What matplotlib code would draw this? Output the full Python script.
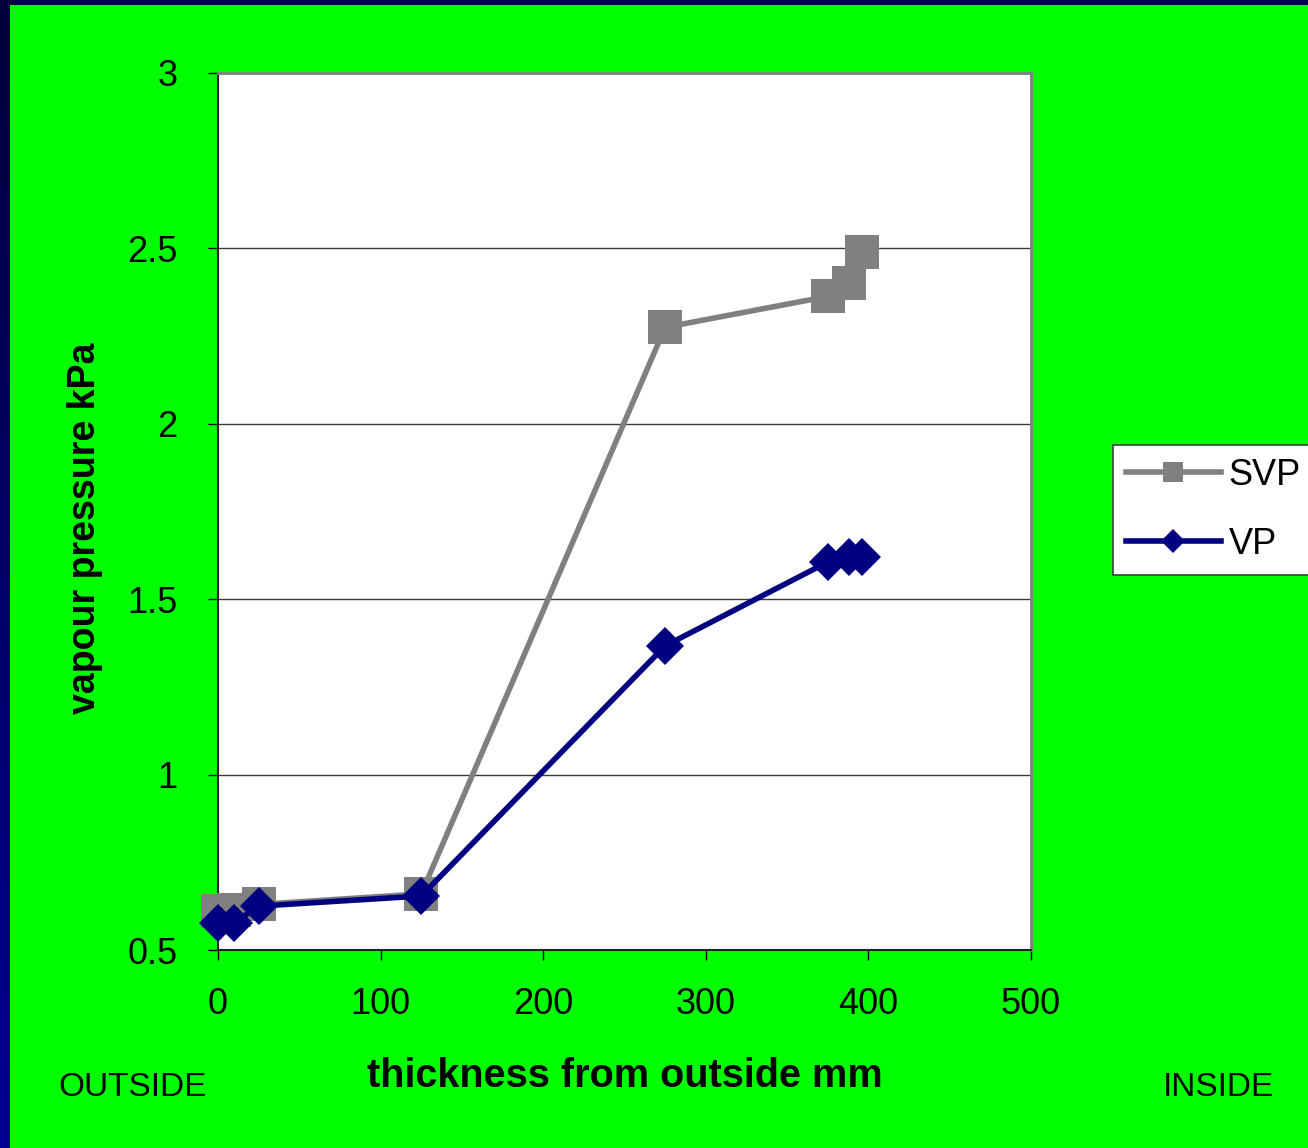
import numpy as np
import matplotlib
matplotlib.use("Agg")
import matplotlib.pyplot as plt
from matplotlib.patches import Rectangle
from matplotlib.lines import Line2D
from matplotlib.colors import LinearSegmentedColormap

plt.rcParams['font.family'] = ['Liberation Sans', 'DejaVu Sans']

# Data
thickness = [0, 10, 25, 125, 275, 375, 388, 396]
svp = [0.61, 0.615, 0.63, 0.66, 2.275, 2.363, 2.40, 2.49]
vp = [0.578, 0.578, 0.625, 0.654, 1.367, 1.606, 1.62, 1.62]
series_names = ["SVP", "VP"]
x_ticks = [0, 100, 200, 300, 400, 500]
y_ticks = [0.5, 1, 1.5, 2, 2.5, 3]
y_tick_labels = ["0.5", "1", "1.5", "2", "2.5", "3"]

W, H = 1308, 1148
fig = plt.figure(figsize=(W / 100, H / 100), dpi=100)

# background: navy gradient border + green slide
bg = fig.add_axes([0, 0, 1, 1], zorder=-10)
grad = np.linspace(0, 1, 256).reshape(-1, 1)
cmap = LinearSegmentedColormap.from_list("nv", ["#000094", "#00003c"])
bg.imshow(grad, aspect='auto', cmap=cmap, extent=[0, 1, 0, 1], origin='lower')
bg.add_patch(Rectangle((10 / W, 0), 1, 1 - 5 / H, facecolor="#00FF00", edgecolor='none'))
bg.set_xlim(0, 1)
bg.set_ylim(0, 1)
bg.axis('off')

ax = fig.add_axes([218 / W, 1 - 950 / H, (1031 - 218) / W, (950 - 73) / H])
ax.set_facecolor("white")

ax.plot(thickness, svp, color="#808080", lw=4, marker='s', ms=24, mew=0,
        label=series_names[0], zorder=3, clip_on=False)
ax.plot(thickness, vp, color="#000080", lw=4, marker='D', ms=19, mew=0,
        label=series_names[1], zorder=4, clip_on=False)

ax.set_xlim(0, 500)
ax.set_ylim(0.5, 3)
ax.set_xticks(x_ticks)
ax.set_yticks(y_ticks)
ax.set_yticklabels(y_tick_labels)
ax.yaxis.grid(True, color="#3a3a3a", lw=1)
ax.set_axisbelow(True)
ax.tick_params(axis='both', labelsize=26, length=7, width=1, direction='out', color='black')
ax.tick_params(axis='y', pad=22)
ax.tick_params(axis='x', pad=20)

for s in ['top', 'right']:
    ax.spines[s].set_color('#808080')
    ax.spines[s].set_linewidth(2)
for s in ['left', 'bottom']:
    ax.spines[s].set_color('#202020')
    ax.spines[s].set_linewidth(1.5)

fig.text(85 / W, 1 - 528 / H, "vapour pressure kPa", fontsize=27, fontweight='bold',
         rotation=90, ha='center', va='center')
fig.text(625 / W, 1 - 1076 / H, "thickness from outside mm", fontsize=28.5, fontweight='bold',
         ha='center', va='center')
fig.text(133 / W, 1 - 1087 / H, "OUTSIDE", fontsize=24, ha='center', va='center')
fig.text(1219 / W, 1 - 1087 / H, "INSIDE", fontsize=24, ha='center', va='center')

handles = [
    Line2D([], [], color="#808080", lw=4, marker='s', ms=14, mew=0),
    Line2D([], [], color="#000080", lw=4, marker='D', ms=12, mew=0),
]
leg = fig.legend(handles, series_names, loc='upper left', bbox_to_anchor=(1113 / W, 1 - 445 / H),
                 fontsize=26, frameon=True, fancybox=False, framealpha=1, handlelength=2.65,
                 handletextpad=0.2, borderpad=0.35, labelspacing=0.95, borderaxespad=0)
leg.get_frame().set_edgecolor('#404040')
leg.get_frame().set_linewidth(1.2)
leg.get_frame().set_facecolor('white')

fig.savefig("out.png", dpi=100)
